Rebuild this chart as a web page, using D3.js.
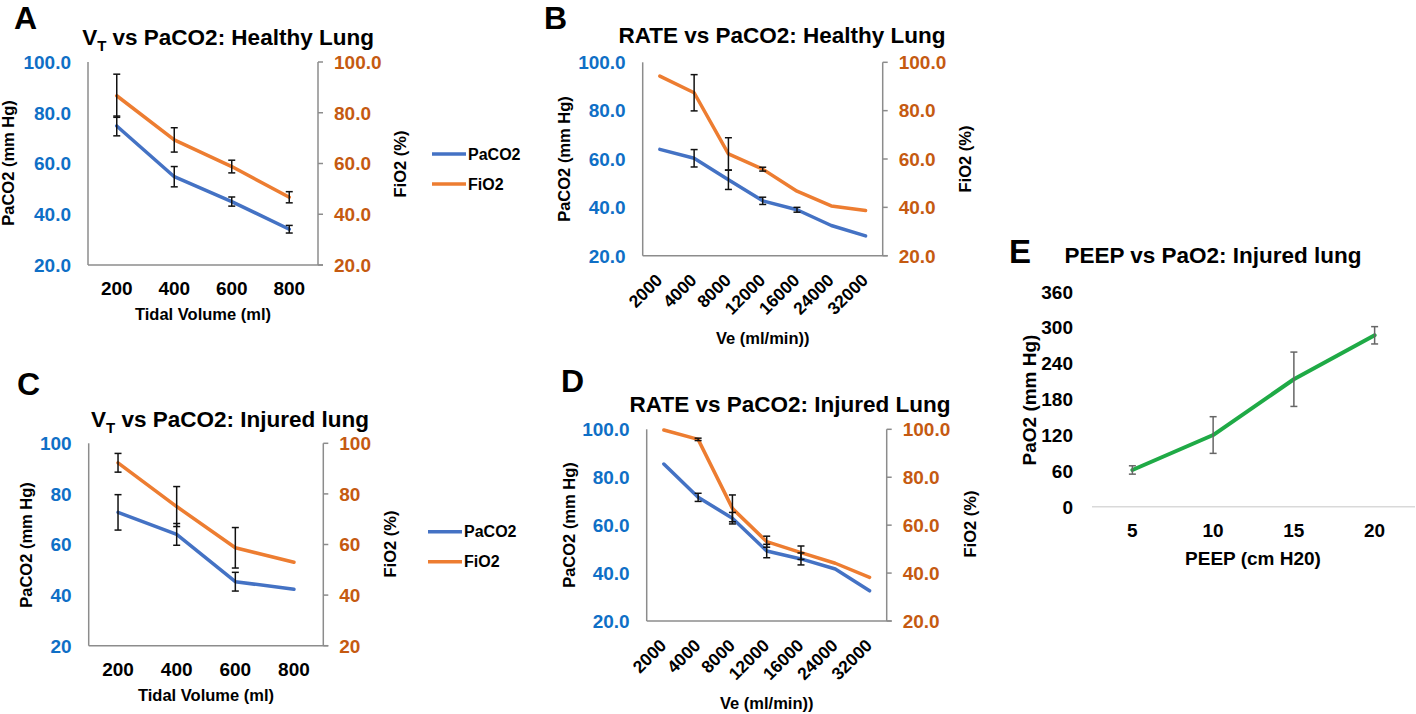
<!DOCTYPE html>
<html>
<head>
<meta charset="utf-8">
<script src="https://cdn.jsdelivr.net/npm/d3@7"></script>
<style>
html,body{margin:0;padding:0;background:#fff;}
svg{display:block;}
text{font-family:"Liberation Sans",Arial,sans-serif;font-weight:bold;}
</style>
</head>
<body>
<svg id="chart" width="1416" height="714"></svg>
<script>
// ---------- DATA ----------
const seriesNames = ["PaCO2", "FiO2"];
const vtCats = ["200", "400", "600", "800"];
const rateCats = ["2000", "4000", "8000", "12000", "16000", "24000", "32000"];
const peepCats = ["5", "10", "15", "20"];

// A: VT vs PaCO2, healthy
const aPaco2 = [74.8, 54.8, 45.0, 34.1];
const aPaco2Err = [3.9, 4.0, 1.8, 1.5];
const aFio2 = [86.7, 69.3, 58.8, 46.7];
const aFio2Err = [8.5, 4.8, 2.5, 2.2];

// B: RATE vs PaCO2, healthy
const bPaco2 = [64.0, 60.3, 51.4, 42.7, 39.0, 32.5, 28.2];
const bPaco2Err = [null, 3.6, 4.0, 1.5, 1.0, null, null];
const bFio2 = [94.3, 87.4, 62.1, 55.8, 46.7, 40.6, 38.7];
const bFio2Err = [null, 7.5, 6.7, 0.8, null, null, null];

// C: VT vs PaCO2, injured
const cPaco2 = [72.7, 64.0, 45.3, 42.3];
const cPaco2Err = [7.0, 4.3, 3.7, null];
const cFio2 = [92.3, 75.0, 58.7, 53.0];
const cFio2Err = [3.7, 7.9, 8.0, null];

// D: RATE vs PaCO2, injured
const dPaco2 = [85.5, 71.6, 62.9, 49.2, 45.9, 41.7, 32.6];
const dPaco2Err = [null, 1.7, 2.4, 2.8, 2.5, null, null];
const dFio2 = [99.7, 95.8, 67.0, 53.1, 48.5, 44.1, 38.2];
const dFio2Err = [null, 0.5, 5.6, 2.3, 2.8, null, null];

// E: PEEP vs PaO2, injured
const ePao2 = [61.5, 120, 213.4, 287];
const ePao2Err = [7, 30.7, 45.5, 14.5];

const dualTicks = [20, 40, 60, 80, 100];
const peepTicks = [0, 60, 120, 180, 240, 300, 360];

// ---------- STYLE ----------
const BLUE = "#4472C4", ORANGE = "#ED7D31", GREEN = "#1FAA46";
const BLUE_TXT = "#0F6FC6", ORANGE_TXT = "#C55A11";
const AXIS = "#8c8c8c";

const svg = d3.select("#chart");

function txt(g, x, y, s, size, opts = {}) {
  const t = g.append("text").attr("x", x).attr("y", y)
    .attr("font-size", size).attr("fill", opts.fill || "#000")
    .attr("text-anchor", opts.anchor || "start").text(s);
  if (opts.rotate) t.attr("transform", `rotate(${opts.rotate},${x},${y})`);
  return t;
}

function errorBars(g, cats, vals, errs, x, y, color, capW) {
  cats.forEach((c, i) => {
    if (errs[i] == null) return;
    const cx = x(c), y1 = y(vals[i] + errs[i]), y2 = y(vals[i] - errs[i]);
    g.append("line").attr("x1", cx).attr("x2", cx).attr("y1", y1).attr("y2", y2)
      .attr("stroke", color).attr("stroke-width", 1.5);
    [y1, y2].forEach(yy => g.append("line").attr("x1", cx - capW).attr("x2", cx + capW)
      .attr("y1", yy).attr("y2", yy).attr("stroke", color).attr("stroke-width", 1.5));
  });
}

function drawDual(cfg) {
  const g = svg.append("g");
  const x = d3.scalePoint().domain(cfg.cats).range([cfg.x0, cfg.x1]).padding(0.5);
  const yL = d3.scaleLinear().domain([20, 100]).range([cfg.yb, cfg.yt]);
  const yR = d3.scaleLinear().domain([20, 100]).range([cfg.yb, cfg.yt]);

  g.append("line").attr("x1", cfg.x0).attr("x2", cfg.x0).attr("y1", cfg.yt).attr("y2", cfg.yb)
    .attr("stroke", AXIS).attr("stroke-width", 1.5);
  g.append("line").attr("x1", cfg.x0).attr("x2", cfg.x1 + 5).attr("y1", cfg.yb).attr("y2", cfg.yb)
    .attr("stroke", AXIS).attr("stroke-width", 1.5);
  g.append("line").attr("x1", cfg.x1).attr("x2", cfg.x1).attr("y1", cfg.yt).attr("y2", cfg.yb)
    .attr("stroke", AXIS).attr("stroke-width", 1.5);
  dualTicks.forEach(v => {
    g.append("line").attr("x1", cfg.x1).attr("x2", cfg.x1 + 5).attr("y1", yR(v)).attr("y2", yR(v))
      .attr("stroke", AXIS).attr("stroke-width", 1.5);
  });
  dualTicks.forEach(v => {
    txt(g, cfg.x0 - 17, yL(v), cfg.fmt(v), 19, {fill: BLUE_TXT, anchor: "end"}).attr("dy", "0.36em");
    txt(g, cfg.x1 + 16, yR(v), cfg.fmt(v), 19, {fill: ORANGE_TXT}).attr("dy", "0.36em");
  });
  cfg.cats.forEach(c => {
    if (cfg.rotated) {
      const px = x(c) + 3.6, py = cfg.yb + 25.6;
      g.append("text").attr("font-size", 17.5).attr("text-anchor", "end")
        .attr("transform", `translate(${px},${py}) rotate(-45)`).text(c);
    } else {
      txt(g, x(c), cfg.xlabY, c, 19, {anchor: "middle"});
    }
  });
  txt(g, (cfg.x0 + cfg.x1) / 2, cfg.xtitleY, cfg.xtitle, 16.5, {anchor: "middle"});
  txt(g, cfg.ylx, cfg.ycy, "PaCO2 (mm Hg)", 16.5, {anchor: "middle", rotate: -90});
  txt(g, cfg.yrx, cfg.yrcy, "FiO2 (%)", 16.5, {anchor: "middle", rotate: -90});
  const tt = g.append("text").attr("x", cfg.tx).attr("y", cfg.ty).attr("font-size", 22.5)
    .attr("text-anchor", "middle");
  if (cfg.vt) {
    tt.append("tspan").text("V");
    tt.append("tspan").attr("font-size", 15).attr("dy", 6).text("T");
    tt.append("tspan").attr("dy", -6).text(cfg.title);
  } else tt.text(cfg.title);
  txt(g, cfg.lx, cfg.ly, cfg.letter, 32, {});

  const lineL = d3.line().x((d, i) => x(cfg.cats[i])).y(d => yL(d));
  const lineR = d3.line().x((d, i) => x(cfg.cats[i])).y(d => yR(d));
  g.append("path").attr("d", lineR(cfg.fio2)).attr("fill", "none").attr("stroke", ORANGE)
    .attr("stroke-width", 3.5).attr("stroke-linejoin", "round").attr("stroke-linecap", "round");
  g.append("path").attr("d", lineL(cfg.paco2)).attr("fill", "none").attr("stroke", BLUE)
    .attr("stroke-width", 3.5).attr("stroke-linejoin", "round").attr("stroke-linecap", "round");
  errorBars(g, cfg.cats, cfg.fio2, cfg.fio2Err, x, yR, "#111", 3.5);
  errorBars(g, cfg.cats, cfg.paco2, cfg.paco2Err, x, yL, "#111", 3.5);

  if (cfg.legend) {
    const L = cfg.legend;
    [BLUE, ORANGE].forEach((col, i) => {
      const yy = L.y + i * L.gap;
      g.append("line").attr("x1", L.x).attr("x2", L.x + 34).attr("y1", yy).attr("y2", yy)
        .attr("stroke", col).attr("stroke-width", 3.5);
      txt(g, L.x + 36, yy, seriesNames[i], 16, {}).attr("dy", "0.36em");
    });
  }
}

const f1 = d3.format(".1f"), f0 = d3.format("d");

drawDual({cats: vtCats, paco2: aPaco2, paco2Err: aPaco2Err, fio2: aFio2, fio2Err: aFio2Err,
  x0: 88, x1: 318, yt: 62, yb: 265, fmt: f1, rotated: false, xlabY: 295,
  xtitle: "Tidal Volume (ml)", xtitleY: 320, ylx: 14, ycy: 163, yrx: 406, yrcy: 164,
  vt: true, title: " vs PaCO2: Healthy Lung", tx: 228, ty: 45, letter: "A", lx: 14, ly: 29,
  legend: {x: 432, y: 154, gap: 30}});

drawDual({cats: rateCats, paco2: bPaco2, paco2Err: bPaco2Err, fio2: bFio2, fio2Err: bFio2Err,
  x0: 642.7, x1: 882.7, yt: 62.3, yb: 255.7, fmt: f1, rotated: true,
  xtitle: "Ve (ml/min))", xtitleY: 344, ylx: 570, ycy: 159, yrx: 971, yrcy: 159,
  vt: false, title: "RATE vs PaCO2: Healthy Lung", tx: 782, ty: 43, letter: "B", lx: 544, ly: 29});

drawDual({cats: vtCats, paco2: cPaco2, paco2Err: cPaco2Err, fio2: cFio2, fio2Err: cFio2Err,
  x0: 88.7, x1: 323.3, yt: 443.3, yb: 645.7, fmt: f0, rotated: false, xlabY: 676,
  xtitle: "Tidal Volume (ml)", xtitleY: 700.5, ylx: 32, ycy: 545, yrx: 396, yrcy: 544,
  vt: true, title: " vs PaCO2: Injured lung", tx: 230, ty: 426.5, letter: "C", lx: 17, ly: 395,
  legend: {x: 428, y: 531.7, gap: 30}});

drawDual({cats: rateCats, paco2: dPaco2, paco2Err: dPaco2Err, fio2: dFio2, fio2Err: dFio2Err,
  x0: 646.7, x1: 886.7, yt: 429.3, yb: 621, fmt: f1, rotated: true,
  xtitle: "Ve (ml/min))", xtitleY: 708.5, ylx: 575, ycy: 525, yrx: 976, yrcy: 524,
  vt: false, title: "RATE vs PaCO2: Injured Lung", tx: 790, ty: 411.5, letter: "D", lx: 561, ly: 392});

// ---------- Panel E ----------
(function () {
  const g = svg.append("g");
  const x0 = 1092, x1 = 1415, yt = 291.7, yb = 506.7;
  const x = d3.scalePoint().domain(peepCats).range([x0, x1]).padding(0.5);
  const y = d3.scaleLinear().domain([0, 360]).range([yb, yt]);
  g.append("line").attr("x1", x0).attr("x2", x1).attr("y1", yb).attr("y2", yb)
    .attr("stroke", "#d9d9d9").attr("stroke-width", 1.5);
  peepTicks.forEach(v => txt(g, 1073, y(v), f0(v), 19, {anchor: "end"}).attr("dy", "0.36em"));
  peepCats.forEach(c => txt(g, x(c), 537, c, 19, {anchor: "middle"}));
  txt(g, 1253, 565, "PEEP (cm H20)", 19, {anchor: "middle"});
  txt(g, 1036, 400, "PaO2 (mm Hg)", 19, {anchor: "middle", rotate: -90});
  txt(g, 1213, 263, "PEEP vs PaO2: Injured lung", 22.5, {anchor: "middle"});
  txt(g, 1009, 263, "E", 33, {});
  const line = d3.line().x((d, i) => x(peepCats[i])).y(d => y(d));
  g.append("path").attr("d", line(ePao2)).attr("fill", "none").attr("stroke", GREEN)
    .attr("stroke-width", 4).attr("stroke-linejoin", "round").attr("stroke-linecap", "round");
  errorBars(g, peepCats, ePao2, ePao2Err, x, y, "#666", 3.5);
})();
</script>
</body>
</html>
